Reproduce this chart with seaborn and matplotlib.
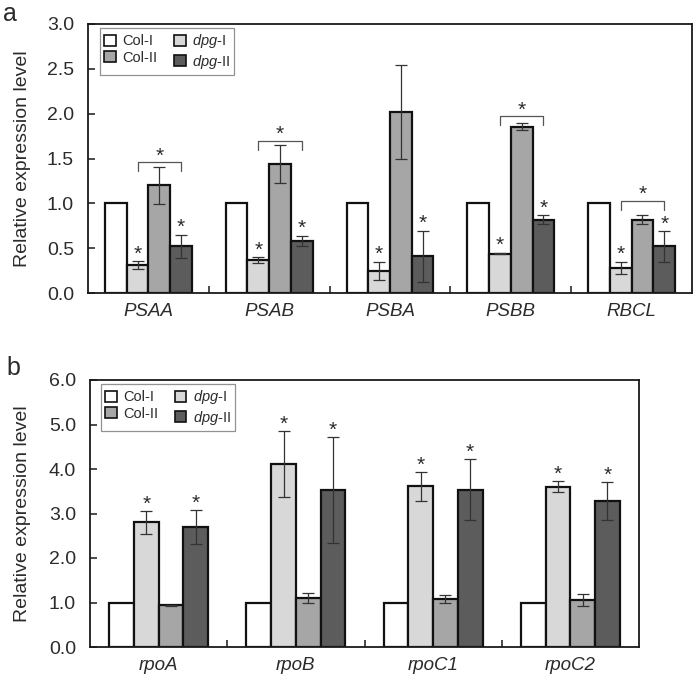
# relativni exprese genu - dva panely (a: fotosynteza, b: rpo geny)
import pandas as pd
import seaborn as sns
import matplotlib.pyplot as plt
from matplotlib.patches import Patch
from matplotlib.ticker import FixedLocator

# data panel a
geny_a = ['PSAA', 'PSAB', 'PSBA', 'PSBB', 'RBCL']
col1_a = [1.0, 1.0, 1.0, 1.0, 1.0]
dpg1_a = [0.31, 0.37, 0.25, 0.44, 0.28]
col2_a = [1.20, 1.44, 2.02, 1.855, 0.815]
dpg2_a = [0.52, 0.58, 0.41, 0.815, 0.52]
col1_a_err = [0, 0, 0, 0, 0]
dpg1_a_err = [0.045, 0.03, 0.10, 0.01, 0.07]
col2_a_err = [0.21, 0.21, 0.52, 0.04, 0.05]
dpg2_a_err = [0.13, 0.06, 0.285, 0.05, 0.17]
# zavorky s hvezdickou (gen, vyska)
zavorky_a = [('PSAA', 1.46), ('PSAB', 1.70), ('PSBB', 1.975), ('RBCL', 1.03)]

# data panel b
geny_b = ['rpoA', 'rpoB', 'rpoC1', 'rpoC2']
col1_b = [1.0, 1.0, 1.0, 1.0]
dpg1_b = [2.80, 4.11, 3.61, 3.60]
col2_b = [0.935, 1.11, 1.08, 1.06]
dpg2_b = [2.69, 3.53, 3.53, 3.28]
col1_b_err = [0, 0, 0, 0]
dpg1_b_err = [0.25, 0.74, 0.32, 0.12]
col2_b_err = [0.015, 0.11, 0.09, 0.13]
dpg2_b_err = [0.38, 1.19, 0.685, 0.42]

genotypy = ['Col-I', 'dpg-I', 'Col-II', 'dpg-II']
barvy = ['#ffffff', '#d8d8d8', '#a6a6a6', '#5c5c5c']
popisky = {'Col-I': 'Col-I', 'dpg-I': r'$\mathit{dpg}$-I',
           'Col-II': 'Col-II', 'dpg-II': r'$\mathit{dpg}$-II'}

sns.set_style('ticks', {'xtick.direction': 'in', 'ytick.direction': 'in'})
plt.rcParams['font.family'] = ['Liberation Sans', 'DejaVu Sans']
plt.rcParams['mathtext.fontset'] = 'custom'
plt.rcParams['mathtext.rm'] = 'Liberation Sans'
plt.rcParams['mathtext.it'] = 'Liberation Sans:italic'
plt.rcParams['text.color'] = '#2b2b2b'
plt.rcParams['axes.labelcolor'] = '#2b2b2b'
plt.rcParams['xtick.color'] = '#2b2b2b'
plt.rcParams['ytick.color'] = '#2b2b2b'

TEXT = '#2b2b2b'


def panel(ax, geny, hodnoty, chyby, ymax, ystep, zavorky=None):
    df = pd.DataFrame({
        'gen': [g for _ in genotypy for g in geny],
        'genotyp': [t for t in genotypy for _ in geny],
        'hodnota': [v for serie in hodnoty for v in serie],
    })
    sns.barplot(data=df, x='gen', y='hodnota', hue='genotyp', order=geny,
                hue_order=genotypy, palette=barvy, width=0.72, saturation=1,
                edgecolor='#111111', linewidth=1.6, errorbar=None,
                legend=False, ax=ax)
    # chybove useky a hvezdicky
    stred = {}
    for k, (cont, err) in enumerate(zip(ax.containers, chyby)):
        for i, (bar, e) in enumerate(zip(cont, err)):
            x = bar.get_x() + bar.get_width() / 2
            h = bar.get_height()
            stred[(geny[i], genotypy[k])] = x
            if e > 0:
                ax.errorbar(x, h, yerr=e, fmt='none', ecolor='#333333',
                            elinewidth=0.9, capsize=4, capthick=0.9, zorder=3)
            if genotypy[k].startswith('dpg'):
                ax.annotate('*', (x, h + e), xytext=(0, 7),
                            textcoords='offset pixels', ha='center',
                            va='center', fontsize=15, color=TEXT)
    if zavorky:
        leg = ymax * 0.034
        for gen, y in zavorky:
            x1 = stred[(gen, 'dpg-I')]
            x2 = stred[(gen, 'dpg-II')]
            ax.plot([x1, x1, x2, x2], [y - leg, y, y, y - leg],
                    color='#555555', lw=0.9)
            ax.annotate('*', ((x1 + x2) / 2, y), xytext=(0, 6),
                        textcoords='offset pixels', ha='center',
                        va='center', fontsize=15, color=TEXT)

    ax.set_xlim(-0.5, len(geny) - 0.5)
    ax.set_ylim(0, ymax)
    n = int(round(ymax / ystep)) + 1
    ax.set_yticks([i * ystep for i in range(n)])
    ax.set_yticklabels(['{:.1f}'.format(i * ystep) for i in range(n)])
    ax.xaxis.set_minor_locator(FixedLocator([i + 0.5 for i in range(len(geny) - 1)]))
    ax.tick_params(axis='x', which='major', length=0, pad=7, labelsize=13.5)
    ax.tick_params(axis='x', which='minor', length=5, width=1.2,
                   direction='in', bottom=True)
    ax.tick_params(axis='y', which='major', length=5, width=1.2,
                   direction='in', pad=10, labelsize=14)
    for lab in ax.get_xticklabels():
        lab.set_fontstyle('italic')
    for s in ax.spines.values():
        s.set_visible(True)
        s.set_linewidth(1.3)
        s.set_color('#1a1a1a')
    ax.set_xlabel('')
    ax.set_ylabel('Relative expression level', fontsize=14)

    handles = [Patch(facecolor=barvy[genotypy.index(g)], edgecolor='#111111',
                     linewidth=1.2, label=popisky[g])
               for g in ['Col-I', 'Col-II', 'dpg-I', 'dpg-II']]
    lg = ax.legend(handles=handles, ncol=2, loc='upper left', fontsize=10.5,
                   frameon=True, fancybox=False, edgecolor='#777777',
                   handlelength=0.8, handleheight=0.8, handletextpad=0.45,
                   columnspacing=1.1, labelspacing=0.15, borderpad=0.3,
                   borderaxespad=0.0, bbox_to_anchor=(0.02, 0.985))
    lg.get_frame().set_linewidth(0.9)


fig = plt.figure(figsize=(6.97, 6.82), dpi=100)
ax_a = fig.add_axes([88 / 697, 1 - 293 / 682, 604 / 697, 269 / 682])
ax_b = fig.add_axes([90 / 697, 1 - 647 / 682, 549 / 697, 267 / 682])

panel(ax_a, geny_a, [col1_a, dpg1_a, col2_a, dpg2_a],
      [col1_a_err, dpg1_a_err, col2_a_err, dpg2_a_err], 3.0, 0.5, zavorky_a)
panel(ax_b, geny_b, [col1_b, dpg1_b, col2_b, dpg2_b],
      [col1_b_err, dpg1_b_err, col2_b_err, dpg2_b_err], 6.0, 1.0)

ax_a.yaxis.set_label_coords((31 - 88) / 604, 0.5)
ax_b.yaxis.set_label_coords((31 - 90) / 549, 0.5)

fig.text(3 / 697, 1 - 21 / 682, 'a', fontsize=18, va='baseline', color=TEXT)
fig.text(6 / 697, 1 - 375 / 682, 'b', fontsize=18, va='baseline', color=TEXT)

fig.savefig('out.png', dpi=100)
